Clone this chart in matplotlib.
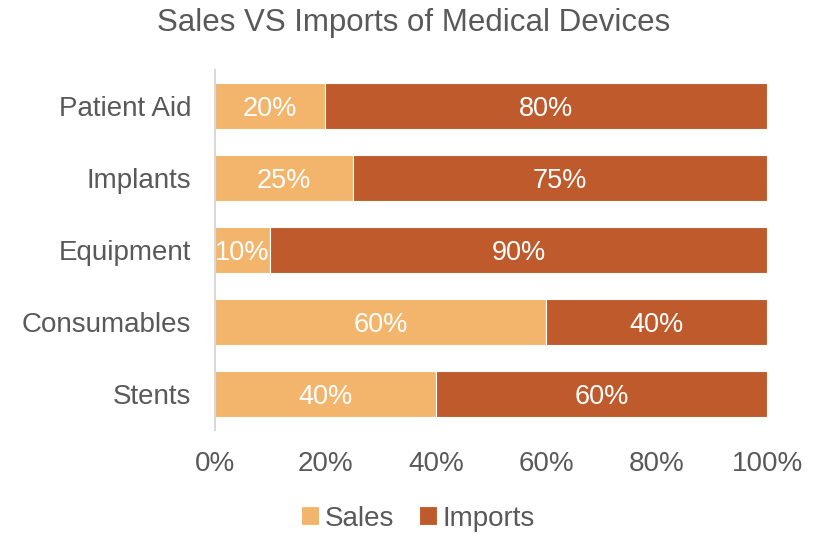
import matplotlib
matplotlib.use("Agg")
import matplotlib.pyplot as plt
import numpy as np
from matplotlib.ticker import PercentFormatter

plt.rcParams["font.family"] = ["Liberation Sans", "DejaVu Sans"]

categories = ["Patient Aid", "Implants", "Equipment", "Consumables", "Stents"]
sales = [20, 25, 10, 60, 40]
imports = [80, 75, 90, 40, 60]

SALES_COLOR = "#F2B56B"
IMPORTS_COLOR = "#BE5A2B"
GREY = "#595959"

fig = plt.figure(figsize=(8.23, 5.34), dpi=100)
ax = fig.add_axes([0.2612, 0.195, 0.6708, 0.674])

y = np.arange(len(categories))
bars_s = ax.barh(y, sales, height=0.645, color=SALES_COLOR, edgecolor="white",
                 linewidth=0.8, label="Sales")
bars_i = ax.barh(y, imports, left=sales, height=0.645, color=IMPORTS_COLOR,
                 edgecolor="white", linewidth=0.8, label="Imports")

for bars in (bars_s, bars_i):
    labels = ax.bar_label(bars, labels=[f"{int(b.get_width())}%" for b in bars],
                          label_type="center", color="white", fontsize=19.5)
    for t in labels:
        t.set_va("center_baseline")

ax.set_ylim(len(categories) - 0.5, -0.5)
ax.set_xlim(0, 100)
ax.set_yticks(y, categories)
ax.set_xticks(np.arange(0, 101, 20))
ax.xaxis.set_major_formatter(PercentFormatter(decimals=0))
ax.tick_params(axis="both", length=0, labelsize=20, labelcolor=GREY)
ax.tick_params(axis="x", pad=15)
ax.tick_params(axis="y", pad=17)

for side in ("top", "right", "bottom"):
    ax.spines[side].set_visible(False)
ax.spines["left"].set_color("#D9D9D9")
ax.spines["left"].set_linewidth(1.5)

fig.text(0.503, 0.957, "Sales VS Imports of Medical Devices", ha="center", va="center",
         fontsize=22.5, color=GREY)

fig.legend(loc="center", bbox_to_anchor=(0.508, 0.029), ncol=2, frameon=False,
           fontsize=20, labelcolor=GREY, handlelength=0.65, handleheight=0.65,
           handletextpad=0.2, columnspacing=0.9)

fig.savefig("out.png", dpi=100)
